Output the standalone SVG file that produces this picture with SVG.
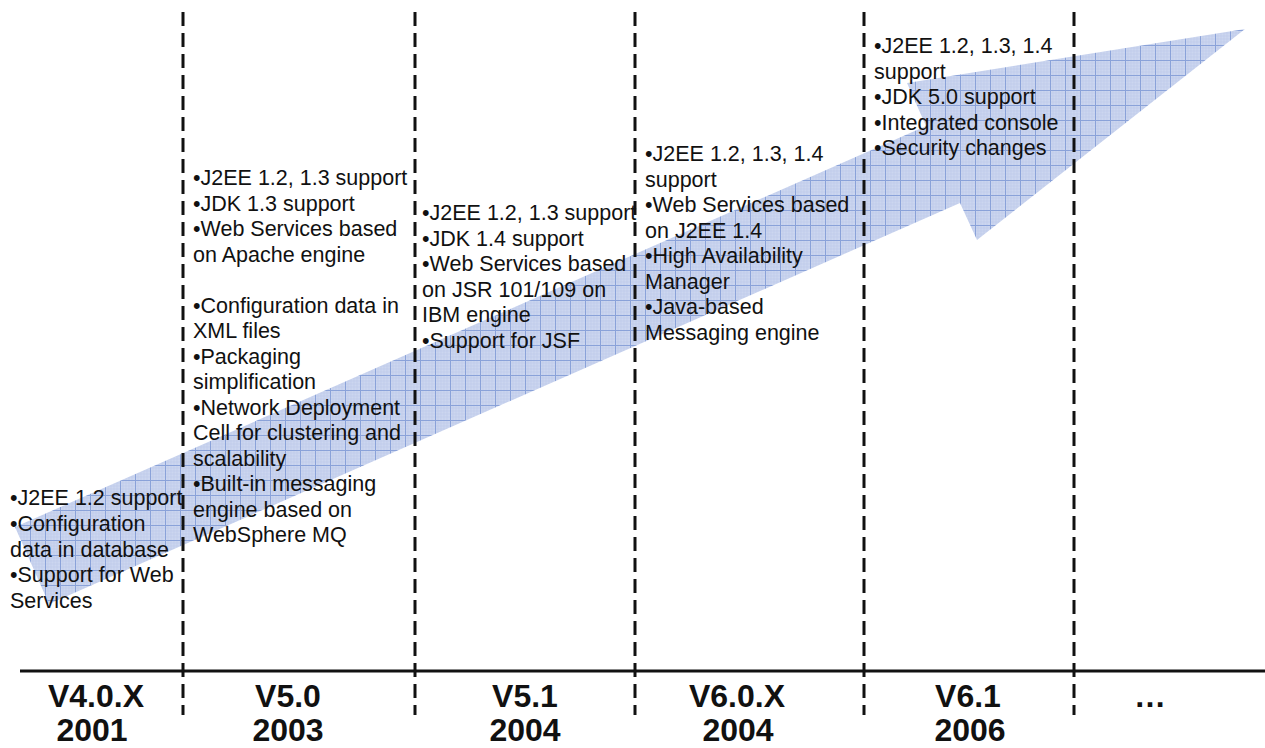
<svg xmlns="http://www.w3.org/2000/svg" width="1265" height="748" viewBox="0 0 1265 748">
  <defs>
    <pattern id="grid" x="0" y="0" width="15" height="15" patternUnits="userSpaceOnUse">
      <rect width="15" height="15" fill="#ccd6ef"/>
      <path d="M3 0V15M6 0V15M9 0V15M12 0V15M0 3H15M0 6H15M0 9H15M0 12H15" stroke="#bccaea" stroke-width="0.6"/>
      <path d="M0.5 0V15M0 0.5H15" stroke="#8aa2d9" stroke-width="1"/>
    </pattern>
    <style>
      .body { font-family: "Liberation Sans", Arial, sans-serif; font-size: 21.5px; fill: #111; }
      .lbl { font-family: "Liberation Sans", Arial, sans-serif; font-size: 32px; font-weight: bold; fill: #111; text-anchor: middle; }
      .sep { stroke: #111; stroke-width: 3; stroke-dasharray: 14 7; fill: none; }
      .axis { stroke: #111; stroke-width: 3; fill: none; }
    </style>
  </defs>
  <rect width="1265" height="748" fill="#ffffff"/>

  <g id="timeline-arrow">
    <polygon points="15,527 926,126 907,83 1245,29 977,240 960,203 49,604" fill="url(#grid)"/>
  </g>

  <g id="connectors">
    <line class="axis" x1="20" y1="671" x2="1265" y2="671"/>
    <line class="sep" x1="183" y1="12" x2="183" y2="715"/>
    <line class="sep" x1="415" y1="12" x2="415" y2="715"/>
    <line class="sep" x1="635" y1="12" x2="635" y2="715"/>
    <line class="sep" x1="864" y1="12" x2="864" y2="715"/>
    <line class="sep" x1="1074" y1="12" x2="1074" y2="715"/>
  </g>

  <g id="v40x">
    <text class="body" x="10" y="505">•J2EE 1.2 support</text>
    <text class="body" x="10" y="531">•Configuration</text>
    <text class="body" x="10" y="557">data in database</text>
    <text class="body" x="10" y="582">•Support for Web</text>
    <text class="body" x="10" y="608">Services</text>
    <text class="lbl" x="96" y="707">V4.0.X</text>
    <text class="lbl" x="92" y="741">2001</text>
  </g>

  <g id="v50">
    <text class="body" x="193" y="185">•J2EE 1.2, 1.3 support</text>
    <text class="body" x="193" y="210.5">•JDK 1.3 support</text>
    <text class="body" x="193" y="236">•Web Services based</text>
    <text class="body" x="193" y="261.5">on Apache engine</text>
    <text class="body" x="193" y="312.5">•Configuration data in</text>
    <text class="body" x="193" y="338">XML files</text>
    <text class="body" x="193" y="363.5">•Packaging</text>
    <text class="body" x="193" y="389">simplification</text>
    <text class="body" x="193" y="414.5">•Network Deployment</text>
    <text class="body" x="193" y="440">Cell for clustering and</text>
    <text class="body" x="193" y="465.5">scalability</text>
    <text class="body" x="193" y="491">•Built-in messaging</text>
    <text class="body" x="193" y="516.5">engine based on</text>
    <text class="body" x="193" y="542">WebSphere MQ</text>
    <text class="lbl" x="288" y="707">V5.0</text>
    <text class="lbl" x="288" y="741">2003</text>
  </g>

  <g id="v51">
    <text class="body" x="422" y="220">•J2EE 1.2, 1.3 support</text>
    <text class="body" x="422" y="245.5">•JDK 1.4 support</text>
    <text class="body" x="422" y="271">•Web Services based</text>
    <text class="body" x="422" y="296.5">on JSR 101/109 on</text>
    <text class="body" x="422" y="322">IBM engine</text>
    <text class="body" x="422" y="347.5">•Support for JSF</text>
    <text class="lbl" x="525" y="707">V5.1</text>
    <text class="lbl" x="525" y="741">2004</text>
  </g>

  <g id="v60x">
    <text class="body" x="645" y="161">•J2EE 1.2, 1.3, 1.4</text>
    <text class="body" x="645" y="186.5">support</text>
    <text class="body" x="645" y="212">•Web Services based</text>
    <text class="body" x="645" y="237.5">on J2EE 1.4</text>
    <text class="body" x="645" y="263">•High Availability</text>
    <text class="body" x="645" y="288.5">Manager</text>
    <text class="body" x="645" y="314">•Java-based</text>
    <text class="body" x="645" y="339.5">Messaging engine</text>
    <text class="lbl" x="737" y="707">V6.0.X</text>
    <text class="lbl" x="738" y="741">2004</text>
  </g>

  <g id="v61">
    <text class="body" x="874" y="53">•J2EE 1.2, 1.3, 1.4</text>
    <text class="body" x="874" y="78.5">support</text>
    <text class="body" x="874" y="104">•JDK 5.0 support</text>
    <text class="body" x="874" y="129.5">•Integrated console</text>
    <text class="body" x="874" y="155">•Security changes</text>
    <text class="lbl" x="968" y="707">V6.1</text>
    <text class="lbl" x="970" y="741">2006</text>
  </g>

  <g id="future">
    <text class="lbl" x="1150" y="707">…</text>
  </g>
</svg>
